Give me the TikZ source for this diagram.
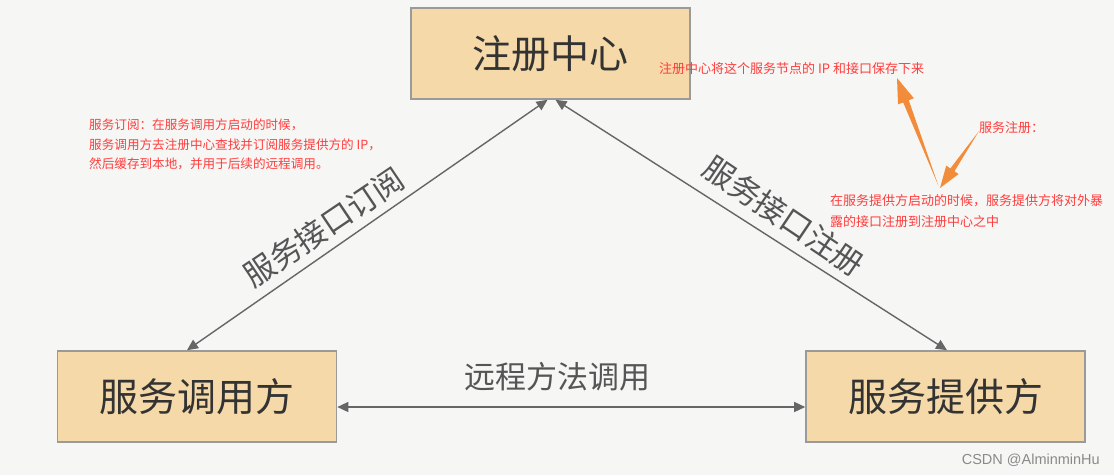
\documentclass[tikz,border=0pt]{standalone}
\usepackage{fontspec}
\setmainfont{Noto Sans CJK SC}
\newfontfamily\wmfont{Liberation Sans}
\usetikzlibrary{arrows.meta,calc}
\definecolor{bg}{HTML}{F6F6F4}
\definecolor{boxfill}{HTML}{F5D9A8}
\definecolor{boxline}{HTML}{9A9A9A}
\definecolor{txt}{HTML}{333333}
\definecolor{lbl}{HTML}{555555}
\definecolor{conncol}{HTML}{666666}
\definecolor{annot}{HTML}{FF3D3D}
\definecolor{orng}{HTML}{F28C3A}
\definecolor{wmark}{HTML}{8A8A8A}
\begin{document}
\begin{tikzpicture}[x=1pt,y=-1pt,
  box/.style={draw=boxline,line width=1.6pt,fill=boxfill,minimum width=279pt,minimum height=91pt,inner sep=0pt,text=txt,font=\fontsize{39}{41}\selectfont},
  conn/.style={draw=conncol,line width=1.4pt,{Triangle[length=11pt,width=10pt]}-{Triangle[length=11pt,width=10pt]}},
  linelbl/.style={text=lbl,font=\fontsize{31}{33}\selectfont,inner sep=0pt},
  annottext/.style={text=annot,font=\fontsize{12.6}{14}\selectfont,inner sep=0pt,anchor=west},
  annottextb/.style={text=annot,font=\fontsize{13}{15}\selectfont,inner sep=0pt,anchor=west},
  orangearrow/.style={fill=orng,draw=none}
]
\fill[bg] (0,0) rectangle (1114,475);
\useasboundingbox (0,0) rectangle (1114,475);

% boxes
\node[box] (reg) at (550.5,53.5) {注册中心};
\node[box] (cons) at (197,396.5) {服务调用方};
\node[box] (prov) at (945.5,396.5) {服务提供方};

% connectors
\draw[conn] ([xshift=-10pt]cons.north) -- ([xshift=-3pt]reg.south);
\draw[conn] ([xshift=5pt]reg.south) -- ([xshift=1.5pt]prov.north);
\draw[conn] ([yshift=-10.5pt]cons.east) -- ([yshift=-10.5pt]prov.west);

% connector labels
\node[linelbl,rotate=34] (lsub) at (324,227) {服务接口订阅};
\node[linelbl,rotate=-34] (lreg) at (784,216) {服务接口注册};
\node[linelbl] (lrpc) at (557,377) {远程方法调用};

% left annotation
\node[annottext] (a1) at (89,125) {服务订阅：在服务调用方启动的时候，};
\node[annottext] (a2) at (89,145) {服务调用方去注册中心查找并订阅服务提供方的 IP，};
\node[annottext] (a3) at (89,164) {然后缓存到本地，并用于后续的远程调用。};

% right annotations
\node[annottextb] (b1) at (659,69) {注册中心将这个服务节点的 IP 和接口保存下来};
\node[annottextb] (b2) at (979,128) {服务注册：};
\node[annottextb] (b3) at (830,201) {在服务提供方启动的时候，服务提供方将对外暴};
\node[annottextb] (b4) at (830,222) {露的接口注册到注册中心之中};

% orange arrows
\coordinate (o1s) at (938.5,186);
\coordinate (o1e) at (897,78);
\coordinate (o1h) at ($(o1e)!25pt!(o1s)$);
\fill[orangearrow] (o1s) -- ($(o1h)!3pt!90:(o1e)$) -- ($(o1h)!8.5pt!90:(o1e)$) -- (o1e)
  -- ($(o1h)!8.5pt!-90:(o1e)$) -- ($(o1h)!3pt!-90:(o1e)$) -- cycle;
\coordinate (o2s) at (979,131);
\coordinate (o2e) at (940,188);
\coordinate (o2h) at ($(o2e)!22pt!(o2s)$);
\fill[orangearrow] (o2s) -- ($(o2h)!2.5pt!90:(o2e)$) -- ($(o2h)!7.5pt!90:(o2e)$) -- (o2e)
  -- ($(o2h)!7.5pt!-90:(o2e)$) -- ($(o2h)!2.5pt!-90:(o2e)$) -- cycle;

% watermark
\node[text=wmark,font=\wmfont\fontsize{14.5}{16}\selectfont,inner sep=0pt,anchor=east] (wm) at (1100,460) {CSDN @AlminminHu};
\end{tikzpicture}
\end{document}
